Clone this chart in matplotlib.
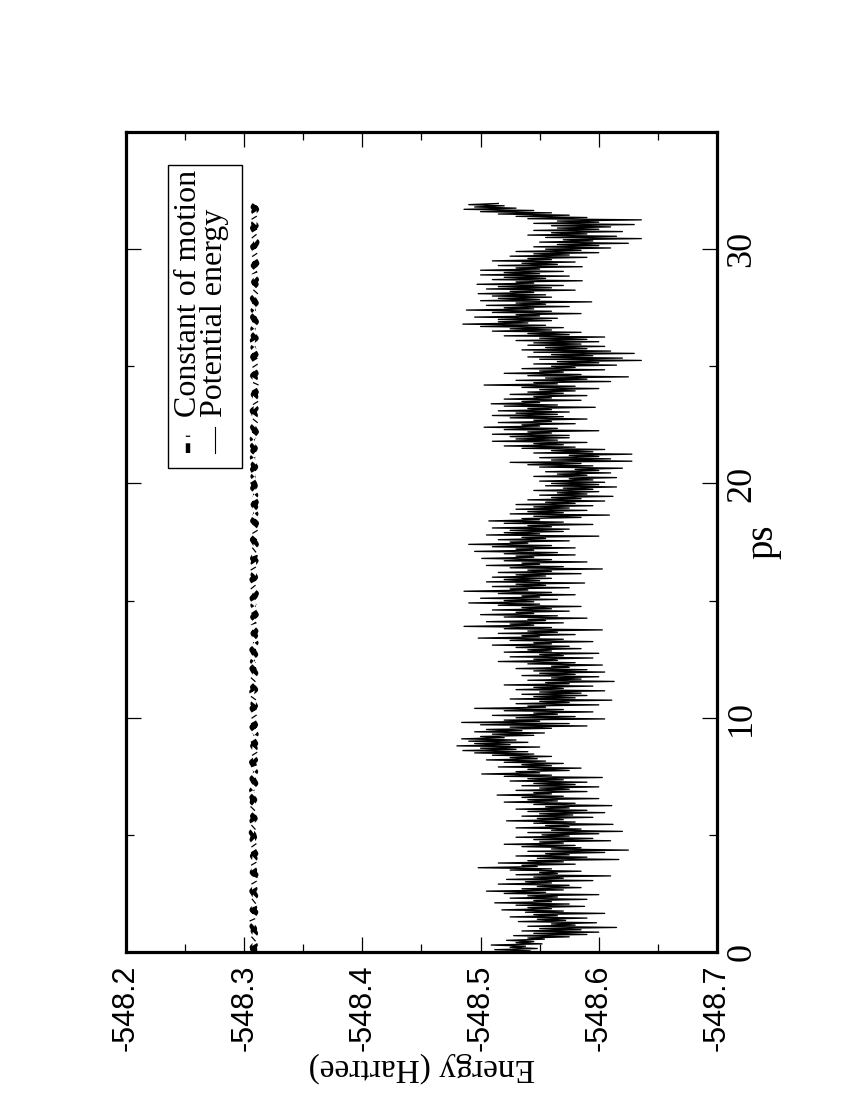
import numpy as np
import matplotlib
matplotlib.use('Agg')
import matplotlib.pyplot as plt
from matplotlib.patches import Rectangle
from matplotlib.lines import Line2D
from matplotlib.ticker import MultipleLocator

plt.rcParams['axes.unicode_minus'] = False
plt.rcParams['lines.scale_dashes'] = False

SERIF = 'Liberation Serif'
SANS = 'Liberation Sans'

# sampling of the two series (ps)
pot_step = 0.05
com_step = 0.1

# potential energy (Hartree), one row per ps
potential_energy = [
    -548.520, -548.542, -548.512, -548.548, -548.525, -548.538, -548.509, -548.552, -548.530, -548.545, -548.522, -548.554, -548.540, -548.575, -548.528, -548.590, -548.545, -548.600, -548.535, -548.585,
    -548.550, -548.615, -548.540, -548.580, -548.560, -548.598, -548.532, -548.572, -548.548, -548.590, -548.525, -548.565, -548.545, -548.605, -548.538, -548.570, -548.518, -548.560, -548.540, -548.588,
    -548.530, -548.575, -548.512, -548.560, -548.545, -548.590, -548.525, -548.565, -548.540, -548.600, -548.520, -548.555, -548.505, -548.570, -548.535, -548.585, -548.548, -548.575, -548.515, -548.560,
    -548.538, -548.595, -548.522, -548.570, -548.545, -548.610, -548.530, -548.565, -548.550, -548.585, -548.525, -548.560, -548.498, -548.548, -548.535, -548.580, -548.515, -548.570, -548.540, -548.617,
    -548.548, -548.590, -548.530, -548.575, -548.555, -548.605, -548.540, -548.625, -548.560, -548.585, -548.535, -548.580, -548.520, -548.570, -548.550, -548.610, -548.545, -548.595, -548.530, -548.575,
    -548.552, -548.600, -548.540, -548.620, -548.560, -548.585, -548.530, -548.575, -548.555, -548.612, -548.545, -548.580, -548.522, -548.570, -548.548, -548.595, -548.535, -548.578, -548.550, -548.605,
    -548.540, -548.590, -548.530, -548.575, -548.555, -548.611, -548.545, -548.580, -548.520, -548.565, -548.540, -548.600, -548.535, -548.570, -548.514, -548.560, -548.545, -548.590, -548.530, -548.575,
    -548.550, -548.600, -548.535, -548.580, -548.545, -548.590, -548.525, -548.570, -548.540, -548.603, -548.520, -548.560, -548.501, -548.550, -548.530, -548.575, -548.540, -548.585, -548.515, -548.560,
    -548.535, -548.570, -548.520, -548.555, -548.505, -548.548, -548.525, -548.560, -548.510, -548.545, -548.495, -548.540, -548.485, -548.530, -548.500, -548.550, -548.480, -548.525, -548.495, -548.540,
    -548.490, -548.530, -548.484, -548.520, -548.500, -548.545, -548.510, -548.554, -548.495, -548.535, -548.505, -548.560, -548.525, -548.590, -548.500, -548.575, -548.484, -548.550, -548.520, -548.605,
    -548.530, -548.580, -548.510, -548.565, -548.545, -548.595, -548.520, -548.570, -548.495, -548.555, -548.540, -548.600, -548.530, -548.575, -548.550, -548.611, -548.525, -548.580, -548.545, -548.590,
    -548.535, -548.585, -548.550, -548.605, -548.530, -548.570, -548.545, -548.595, -548.520, -548.575, -548.555, -548.613, -548.540, -548.585, -548.560, -548.600, -548.535, -548.580, -548.550, -548.605,
    -548.545, -548.590, -548.530, -548.575, -548.560, -548.603, -548.540, -548.580, -548.515, -548.565, -548.545, -548.595, -548.525, -548.570, -548.550, -548.600, -548.520, -548.560, -548.540, -548.585,
    -548.530, -548.575, -548.510, -548.560, -548.545, -548.595, -548.525, -548.570, -548.498, -548.550, -548.535, -548.580, -548.515, -548.565, -548.540, -548.603, -548.520, -548.560, -548.486, -548.545,
    -548.525, -548.570, -548.505, -548.555, -548.540, -548.590, -548.520, -548.565, -548.500, -548.545, -548.530, -548.575, -548.510, -548.560, -548.535, -548.585, -548.515, -548.550, -548.490, -548.545,
    -548.520, -548.565, -548.500, -548.550, -548.535, -548.580, -548.515, -548.560, -548.486, -548.540, -548.525, -548.575, -548.510, -548.555, -548.530, -548.588, -548.505, -548.550, -548.520, -548.560,
    -548.510, -548.555, -548.530, -548.585, -548.515, -548.560, -548.540, -548.603, -548.525, -548.570, -548.505, -548.550, -548.535, -548.590, -548.520, -548.560, -548.501, -548.545, -548.530, -548.580,
    -548.520, -548.565, -548.495, -548.545, -548.530, -548.580, -548.510, -548.560, -548.490, -548.540, -548.525, -548.575, -548.515, -548.555, -548.535, -548.600, -548.505, -548.550, -548.520, -548.570,
    -548.525, -548.575, -548.510, -548.560, -548.540, -548.595, -548.520, -548.570, -548.507, -548.550, -548.535, -548.585, -548.545, -548.609, -548.525, -548.570, -548.540, -548.590, -548.530, -548.575,
    -548.545, -548.595, -548.530, -548.580, -548.555, -548.605, -548.540, -548.585, -548.560, -548.612, -548.550, -548.590, -548.565, -548.600, -548.545, -548.595, -548.570, -548.615, -548.555, -548.600,
    -548.560, -548.605, -548.550, -548.595, -548.575, -548.615, -548.545, -548.590, -548.565, -548.610, -548.555, -548.600, -548.580, -548.620, -548.550, -548.595, -548.540, -548.585, -548.525, -548.628,
    -548.560, -548.610, -548.550, -548.600, -548.575, -548.628, -548.545, -548.595, -548.560, -548.605, -548.535, -548.580, -548.520, -548.570, -548.545, -548.590, -548.510, -548.565, -548.530, -548.575,
    -548.525, -548.575, -548.510, -548.560, -548.540, -548.600, -548.520, -548.565, -548.503, -548.550, -548.535, -548.580, -548.515, -548.560, -548.545, -548.590, -548.525, -548.570, -548.510, -548.565,
    -548.530, -548.575, -548.515, -548.560, -548.540, -548.597, -548.520, -548.565, -548.509, -548.550, -548.535, -548.585, -548.520, -548.560, -548.545, -548.590, -548.525, -548.570, -548.540, -548.580,
    -548.550, -548.600, -548.535, -548.580, -548.503, -548.565, -548.545, -548.610, -548.530, -548.590, -548.555, -548.625, -548.540, -548.585, -548.520, -548.570, -548.550, -548.605, -548.535, -548.580,
    -548.560, -548.615, -548.545, -548.600, -548.565, -548.636, -548.550, -548.620, -548.540, -548.595, -548.560, -548.630, -548.545, -548.610, -548.535, -548.590, -548.555, -548.605, -548.540, -548.585,
    -548.545, -548.600, -548.530, -548.590, -548.550, -548.605, -548.520, -548.575, -548.540, -548.585, -548.510, -548.560, -548.525, -548.570, -548.500, -548.555, -548.485, -548.540, -548.515, -548.560,
    -548.515, -548.565, -548.495, -548.550, -548.530, -548.585, -548.510, -548.560, -548.488, -548.545, -548.520, -548.575, -548.505, -548.555, -548.530, -548.594, -548.500, -548.550, -548.515, -548.560,
    -548.510, -548.555, -548.498, -548.545, -548.525, -548.580, -548.505, -548.560, -548.515, -548.570, -548.497, -548.545, -548.530, -548.586, -548.510, -548.555, -548.520, -548.575, -548.500, -548.550,
    -548.520, -548.570, -548.500, -548.550, -548.530, -548.586, -548.515, -548.565, -548.535, -548.580, -548.510, -548.560, -548.540, -548.590, -548.525, -548.575, -548.545, -548.600, -548.530, -548.585,
    -548.555, -548.610, -548.545, -548.600, -548.565, -548.625, -548.550, -548.595, -548.570, -548.636, -548.555, -548.615, -548.540, -548.590, -548.560, -548.620, -548.545, -548.600, -548.565, -548.610,
    -548.560, -548.630, -548.545, -548.600, -548.565, -548.636, -548.540, -548.590, -548.530, -548.575, -548.515, -548.560, -548.500, -548.545, -548.486, -548.530, -548.495, -548.520, -548.490, -548.515,
]

# constant of motion (Hartree)
constant_of_motion = [
    -548.3068, -548.3086, -548.3072, -548.3090, -548.3078, -548.3066, -548.3088, -548.3074, -548.3092, -548.3080,
    -548.3084, -548.3070, -548.3091, -548.3076, -548.3067, -548.3089, -548.3081, -548.3094, -548.3071, -548.3085,
    -548.3077, -548.3065, -548.3090, -548.3073, -548.3093, -548.3082, -548.3069, -548.3087, -548.3075, -548.3091,
    -548.3079, -548.3068, -548.3086, -548.3095, -548.3072, -548.3084, -548.3070, -548.3089, -548.3078, -548.3066,
    -548.3088, -548.3074, -548.3094, -548.3081, -548.3069, -548.3090, -548.3076, -548.3092, -548.3071, -548.3083,
    -548.3078, -548.3064, -548.3091, -548.3073, -548.3095, -548.3082, -548.3070, -548.3089, -548.3075, -548.3093,
    -548.3080, -548.3068, -548.3087, -548.3096, -548.3072, -548.3085, -548.3069, -548.3091, -548.3079, -548.3067,
    -548.3089, -548.3076, -548.3094, -548.3082, -548.3070, -548.3090, -548.3077, -548.3093, -548.3072, -548.3086,
    -548.3079, -548.3067, -548.3092, -548.3074, -548.3096, -548.3084, -548.3071, -548.3089, -548.3076, -548.3093,
    -548.3081, -548.3069, -548.3088, -548.3097, -548.3073, -548.3086, -548.3070, -548.3092, -548.3080, -548.3068,
    -548.3090, -548.3077, -548.3095, -548.3083, -548.3071, -548.3091, -548.3078, -548.3094, -548.3073, -548.3087,
    -548.3080, -548.3068, -548.3093, -548.3075, -548.3097, -548.3085, -548.3072, -548.3090, -548.3077, -548.3094,
    -548.3082, -548.3070, -548.3089, -548.3098, -548.3074, -548.3087, -548.3071, -548.3093, -548.3081, -548.3069,
    -548.3091, -548.3078, -548.3096, -548.3084, -548.3072, -548.3092, -548.3079, -548.3095, -548.3074, -548.3088,
    -548.3081, -548.3069, -548.3094, -548.3076, -548.3098, -548.3086, -548.3073, -548.3091, -548.3078, -548.3095,
    -548.3083, -548.3071, -548.3090, -548.3099, -548.3075, -548.3088, -548.3072, -548.3094, -548.3082, -548.3070,
    -548.3092, -548.3079, -548.3097, -548.3085, -548.3073, -548.3093, -548.3080, -548.3096, -548.3075, -548.3089,
    -548.3082, -548.3070, -548.3095, -548.3077, -548.3099, -548.3087, -548.3074, -548.3092, -548.3079, -548.3096,
    -548.3084, -548.3072, -548.3091, -548.3100, -548.3076, -548.3089, -548.3073, -548.3095, -548.3083, -548.3071,
    -548.3093, -548.3080, -548.3098, -548.3086, -548.3074, -548.3094, -548.3081, -548.3097, -548.3076, -548.3090,
    -548.3083, -548.3071, -548.3096, -548.3078, -548.3100, -548.3088, -548.3075, -548.3093, -548.3080, -548.3097,
    -548.3085, -548.3073, -548.3092, -548.3101, -548.3077, -548.3090, -548.3074, -548.3096, -548.3084, -548.3072,
    -548.3094, -548.3081, -548.3099, -548.3087, -548.3075, -548.3095, -548.3082, -548.3098, -548.3077, -548.3091,
    -548.3084, -548.3072, -548.3097, -548.3079, -548.3101, -548.3089, -548.3076, -548.3094, -548.3081, -548.3098,
    -548.3086, -548.3074, -548.3093, -548.3102, -548.3078, -548.3091, -548.3075, -548.3097, -548.3085, -548.3073,
    -548.3095, -548.3082, -548.3100, -548.3088, -548.3076, -548.3096, -548.3083, -548.3099, -548.3078, -548.3092,
    -548.3085, -548.3073, -548.3098, -548.3080, -548.3102, -548.3090, -548.3077, -548.3095, -548.3082, -548.3099,
    -548.3087, -548.3075, -548.3094, -548.3103, -548.3079, -548.3092, -548.3076, -548.3098, -548.3086, -548.3074,
    -548.3096, -548.3083, -548.3101, -548.3089, -548.3077, -548.3097, -548.3084, -548.3100, -548.3079, -548.3093,
    -548.3086, -548.3074, -548.3099, -548.3081, -548.3103, -548.3091, -548.3078, -548.3096, -548.3083, -548.3100,
    -548.3088, -548.3076, -548.3095, -548.3104, -548.3080, -548.3093, -548.3077, -548.3099, -548.3087, -548.3075,
    -548.3097, -548.3084, -548.3102, -548.3090, -548.3078, -548.3098, -548.3085, -548.3101, -548.3080, -548.3094,
]

energy_ticks = [-548.2, -548.3, -548.4, -548.5, -548.6, -548.7]
ps_ticks = [0, 10, 20, 30]
legend_labels = ['Constant of motion', 'Potential energy']

t_pot = np.arange(len(potential_energy)) * pot_step
t_com = np.arange(len(constant_of_motion)) * com_step

fig = plt.figure(figsize=(8.5, 11), dpi=100)
ax = fig.add_axes([0.1482, 0.1345, 0.6953, 0.7455])

# the chart is turned by 90 degrees: energy runs along the bottom, time upward
ax.plot(potential_energy, t_pot, color='black', lw=0.95)
co_style = (0, (7.0, 4.6, 0.9, 4.6))
ax.plot(constant_of_motion, t_com, color='black', lw=4.4, linestyle=co_style)

ax.set_xlim(-548.2, -548.7)
ax.set_ylim(0, 35)
ax.set_xticks(energy_ticks)
ax.set_yticks(ps_ticks)
ax.xaxis.set_minor_locator(MultipleLocator(0.05))
ax.yaxis.set_minor_locator(MultipleLocator(5))

for s in ax.spines.values():
    s.set_linewidth(2.3)

ax.tick_params(which='both', direction='in', top=True, bottom=True,
               left=True, right=True, width=0.9)
ax.tick_params(which='major', length=11)
ax.tick_params(which='minor', length=5.5)
ax.tick_params(axis='x', labelrotation=90, labelsize=22, pad=9,
               labelfontfamily=SANS)
ax.tick_params(axis='y', labelleft=False, labelright=True, labelrotation=90,
               labelsize=26, pad=6, labelfontfamily=SERIF)
for tk in ax.yaxis.get_major_ticks():
    tk.label2.set_va('center')

ax.yaxis.set_label_position('right')
ax.set_ylabel('ps', fontfamily=SERIF, fontsize=28, rotation=90, labelpad=-10)
ax.set_xlabel('Energy (Hartree)', fontfamily=SERIF, fontsize=24,
              rotation=180, labelpad=1)

# legend, turned like the rest
ax.add_patch(Rectangle((0.071, 0.590), 0.125, 0.370, transform=ax.transAxes,
                       fill=False, lw=1.0, color='black', zorder=5))
ax.add_line(Line2D([0.105, 0.105], [0.608, 0.637], transform=ax.transAxes,
                   color='black', lw=3.2, linestyle=co_style))
ax.add_line(Line2D([0.150, 0.150], [0.608, 0.640], transform=ax.transAxes,
                   color='black', lw=0.8))
ax.text(0.105, 0.652, legend_labels[0], transform=ax.transAxes, rotation=90,
        ha='center', va='bottom', fontsize=23, fontfamily=SERIF)
ax.text(0.150, 0.652, legend_labels[1], transform=ax.transAxes, rotation=90,
        ha='center', va='bottom', fontsize=23, fontfamily=SERIF)

fig.savefig('out.png', dpi=100)
